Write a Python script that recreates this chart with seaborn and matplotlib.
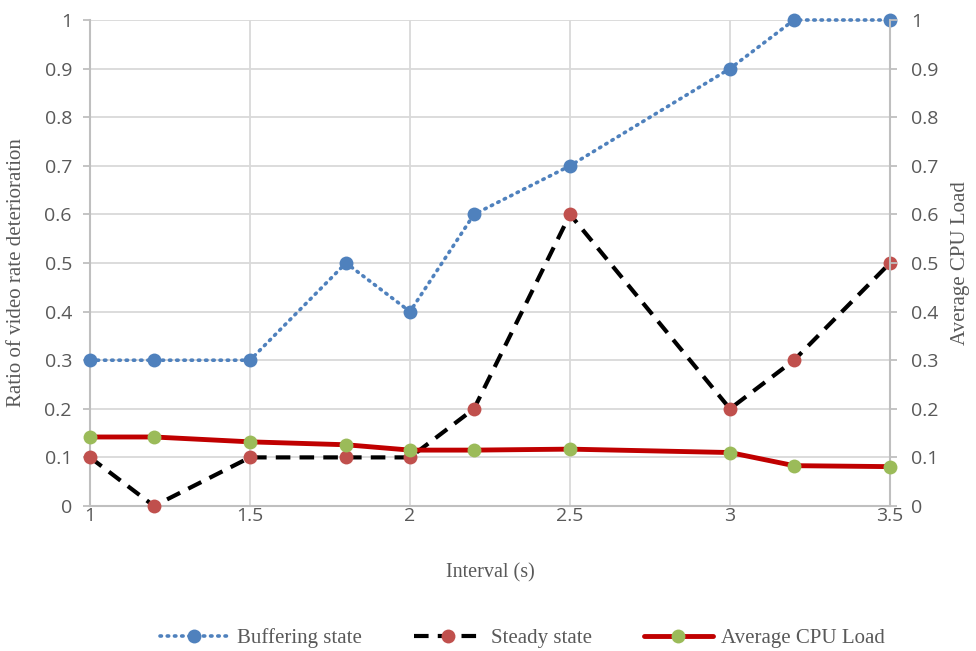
import matplotlib
matplotlib.use("Agg")
import matplotlib.pyplot as plt
import seaborn as sns
import pandas as pd
from matplotlib.lines import Line2D

interval = [1.0, 1.2, 1.5, 1.8, 2.0, 2.2, 2.5, 3.0, 3.2, 3.5]
buffering = [0.3, 0.3, 0.3, 0.5, 0.4, 0.6, 0.7, 0.9, 1.0, 1.0]
steady = [0.1, 0.0, 0.1, 0.1, 0.1, 0.2, 0.6, 0.2, 0.3, 0.5]
cpu_load = [0.142, 0.142, 0.132, 0.126, 0.115, 0.115, 0.117, 0.11, 0.083, 0.081]

x_ticks = [1, 1.5, 2, 2.5, 3, 3.5]
x_ticklabels = ["1", "1.5", "2", "2.5", "3", "3.5"]
y_ticks = [0, 0.1, 0.2, 0.3, 0.4, 0.5, 0.6, 0.7, 0.8, 0.9, 1.0]
y_ticklabels = ["0", "0.1", "0.2", "0.3", "0.4", "0.5", "0.6", "0.7", "0.8", "0.9", "1"]

df = pd.DataFrame({"interval": interval, "buffering": buffering,
                   "steady": steady, "cpu": cpu_load})

sns.set_style("white")
plt.rcParams["font.family"] = ["Open Sans", "DejaVu Sans"]

BLUE = "#4F81BD"
RED_MK = "#C0504D"
GREEN = "#9BBB59"
RED_LN = "#C00000"
GRID = "#D9D9D9"
SPINE = "#BFBFBF"
TXT = "#595959"
serif = ["Liberation Serif", "DejaVu Serif"]

fig = plt.figure(figsize=(9.76, 6.51), dpi=100)
ax = fig.add_axes([90 / 976, 1 - 506 / 651, 800 / 976, 486 / 651])
ax2 = ax.twinx()

sns.lineplot(data=df, x="interval", y="buffering", ax=ax, color=BLUE,
             linestyle=(0, (0.4, 1.6)), dash_capstyle="round", linewidth=2.6,
             marker="o", markersize=10, markeredgewidth=0, markerfacecolor=BLUE,
             zorder=4, clip_on=False)
sns.lineplot(data=df, x="interval", y="steady", ax=ax, color="black",
             linestyle=(0, (3.5, 2.2)), linewidth=3.0,
             marker="o", markersize=10, markeredgewidth=0, markerfacecolor=RED_MK,
             zorder=3, clip_on=False)
sns.lineplot(data=df, x="interval", y="cpu", ax=ax2, color=RED_LN,
             linewidth=3.5, marker="o", markersize=10, markeredgewidth=0,
             markerfacecolor=GREEN, zorder=5, clip_on=False)

for a in (ax, ax2):
    a.set_xlim(1, 3.5)
    a.set_ylim(0, 1)
    a.set_yticks(y_ticks)
    a.set_yticklabels(y_ticklabels)
    for s in a.spines.values():
        s.set_visible(False)

ax.set_xticks(x_ticks)
ax.set_xticklabels(x_ticklabels)
ax.grid(True, color=GRID, linewidth=1.3)
ax.set_axisbelow(True)
for side in ("left", "bottom"):
    ax.spines[side].set_visible(True)
    ax.spines[side].set_color(SPINE)
    ax.spines[side].set_linewidth(1.5)
ax2.spines["right"].set_visible(True)
ax2.spines["right"].set_color(SPINE)
ax2.spines["right"].set_linewidth(1.5)

ax.tick_params(axis="y", colors=SPINE, labelcolor=TXT, labelsize=14,
               length=5, width=1.3, direction="out", pad=8)
ax.tick_params(axis="x", colors=SPINE, labelcolor=TXT, labelsize=14,
               length=0, pad=1)
ax2.tick_params(axis="y", colors=SPINE, labelcolor=TXT, labelsize=14,
                length=5, width=1.3, direction="out", pad=10)

ax.set_xlabel("Interval (s)", family=serif, fontsize=14.5, color=TXT, labelpad=27)
ax.set_ylabel("Ratio of video rate deterioration", family=serif, fontsize=15,
              color=TXT)
ax.yaxis.set_label_coords(-0.08, 0.48)
ax2.set_ylabel("Average CPU Load", family=serif, fontsize=15, color=TXT,
               labelpad=9)

handles = [
    Line2D([], [], color=BLUE, linestyle=(0, (0.4, 1.6)), dash_capstyle="round",
           linewidth=2.6, marker="o", markersize=10, markeredgewidth=0),
    Line2D([], [], color="black", linestyle=(0, (3.5, 2.2)), linewidth=3.0,
           marker="o", markersize=10, markeredgewidth=0, markerfacecolor=RED_MK),
    Line2D([], [], color=RED_LN, linewidth=3.5, marker="o", markersize=10,
           markeredgewidth=0, markerfacecolor=GREEN),
]
labels = ["Buffering state", "Steady state", "Average CPU Load"]
fig.legend(handles, labels, loc="center", bbox_to_anchor=(0.535, 1 - 638 / 651),
           ncol=3, frameon=False, handlelength=3.3, handletextpad=0.4,
           columnspacing=2.5, prop={"family": serif, "size": 15},
           labelcolor=TXT)

fig.savefig("out.png", dpi=100)
